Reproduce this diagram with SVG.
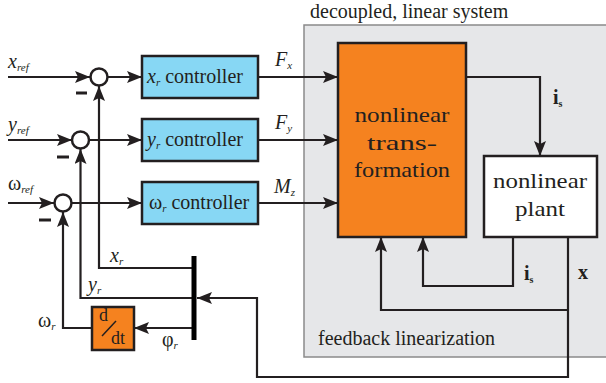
<svg xmlns="http://www.w3.org/2000/svg" width="606" height="383" viewBox="0 0 606 383" font-family="'Liberation Serif', 'DejaVu Serif', serif">
<style>
.ln{fill:none;stroke:#231f20;stroke-width:2.2}
text{font-family:'Liberation Serif','DejaVu Serif',serif;fill:#231f20}
.it{font-style:italic}
.b{font-weight:bold}
.ctrl{fill:#87d7f4;stroke:#231f20;stroke-width:2.5}
.sum{fill:#fff;stroke:#231f20;stroke-width:2.5}
</style>
<defs>
<marker id="ah" markerUnits="userSpaceOnUse" markerWidth="16" markerHeight="12" refX="15" refY="6" orient="auto">
<path d="M0,0 L15,6 L0,12 L3,6 z" fill="#231f20"/>
</marker>
</defs>
<rect id="bg" x="0" y="0" width="606" height="383" fill="#fff"/>
<g id="system-region">
<rect x="304" y="25" width="310" height="332" fill="#e6e7e9" stroke="#8a8a8a" stroke-width="1.5"/>
<text x="310" y="18" font-size="20">decoupled, linear system</text>
<text x="318" y="345" font-size="20">feedback linearization</text>
</g>
<g id="connectors">
<line class="ln" x1="8" y1="77" x2="90" y2="77" marker-end="url(#ah)"/>
<line class="ln" x1="8" y1="140" x2="72" y2="140" marker-end="url(#ah)"/>
<line class="ln" x1="8" y1="203" x2="54" y2="203" marker-end="url(#ah)"/>
<line class="ln" x1="108" y1="77" x2="142" y2="77" marker-end="url(#ah)"/>
<line class="ln" x1="89" y1="140" x2="142" y2="140" marker-end="url(#ah)"/>
<line class="ln" x1="72" y1="203" x2="142" y2="203" marker-end="url(#ah)"/>
<line class="ln" x1="258" y1="77" x2="338" y2="77" marker-end="url(#ah)"/>
<line class="ln" x1="258" y1="140" x2="338" y2="140" marker-end="url(#ah)"/>
<line class="ln" x1="258" y1="203" x2="338" y2="203" marker-end="url(#ah)"/>
<polyline class="ln" points="466,77 540,77 540,156" marker-end="url(#ah)"/>
<polyline class="ln" points="513,237 513,286 423,286 423,237" marker-end="url(#ah)"/>
<polyline class="ln" points="568,237 568,377 257,377 257,298 197,298" marker-end="url(#ah)"/>
<polyline class="ln" points="568,310 381,310 381,237" marker-end="url(#ah)"/>
<polyline class="ln" points="194,268 99,268 99,86" marker-end="url(#ah)"/>
<polyline class="ln" points="194,298 80.5,298 80.5,149" marker-end="url(#ah)"/>
<line class="ln" x1="194" y1="328" x2="134" y2="328" marker-end="url(#ah)"/>
<polyline class="ln" points="92,328 63,328 63,212" marker-end="url(#ah)"/>
</g>
<g id="sum1">
<circle class="sum" cx="99" cy="77" r="8.5"/>
<line x1="76" y1="93" x2="87" y2="93" stroke="#231f20" stroke-width="3"/>
</g>
<g id="sum2">
<circle class="sum" cx="80.5" cy="140" r="8.5"/>
<line x1="57" y1="157" x2="69" y2="157" stroke="#231f20" stroke-width="3"/>
</g>
<g id="sum3">
<circle class="sum" cx="63" cy="203" r="8.5"/>
<line x1="39" y1="220" x2="51" y2="220" stroke="#231f20" stroke-width="3"/>
</g>
<g id="xr-controller">
<rect class="ctrl" x="142" y="56" width="116" height="42"/>
<text x="147" y="83" font-size="20"><tspan class="it">x</tspan><tspan class="it" font-size="11" dy="3">r</tspan><tspan dy="-3"> controller</tspan></text>
</g>
<g id="yr-controller">
<rect class="ctrl" x="142" y="119" width="116" height="42"/>
<text x="147" y="146" font-size="20"><tspan class="it">y</tspan><tspan class="it" font-size="11" dy="3">r</tspan><tspan dy="-3"> controller</tspan></text>
</g>
<g id="wr-controller">
<rect class="ctrl" x="142" y="182" width="116" height="42"/>
<text x="149" y="209" font-size="20">ω<tspan class="it" font-size="11" dy="3">r</tspan><tspan dy="-3"> controller</tspan></text>
</g>
<g id="transformation">
<rect x="338" y="43" width="128" height="194" fill="#f5821f" stroke="#231f20" stroke-width="2.5"/>
<text x="402" y="122" font-size="22" text-anchor="middle" textLength="95" lengthAdjust="spacingAndGlyphs">nonlinear</text>
<text x="402" y="150" font-size="22" text-anchor="middle" textLength="70" lengthAdjust="spacingAndGlyphs">trans-</text>
<text x="402" y="177" font-size="22" text-anchor="middle" textLength="96" lengthAdjust="spacingAndGlyphs">formation</text>
</g>
<g id="plant">
<rect x="484" y="156" width="113" height="81" fill="#fff" stroke="#231f20" stroke-width="2.5"/>
<text x="540" y="188" font-size="22" text-anchor="middle" textLength="94" lengthAdjust="spacingAndGlyphs">nonlinear</text>
<text x="540" y="216" font-size="22" text-anchor="middle" textLength="50" lengthAdjust="spacingAndGlyphs">plant</text>
</g>
<g id="demux">
<rect x="191.5" y="256" width="5" height="84" fill="#000"/>
</g>
<g id="ddt">
<rect x="92" y="307" width="42" height="43" fill="#f5821f" stroke="#231f20" stroke-width="2.5"/>
<text x="99" y="321" font-size="18">d</text>
<line x1="102" y1="336" x2="116" y2="321" stroke="#231f20" stroke-width="1.5"/>
<text x="111" y="344" font-size="18">dt</text>
</g>
<g id="labels">
<text x="8" y="68" font-size="20"><tspan class="it">x</tspan><tspan class="it" font-size="11" dy="3">ref</tspan></text>
<text x="8" y="131" font-size="20"><tspan class="it">y</tspan><tspan class="it" font-size="11" dy="3">ref</tspan></text>
<text x="8" y="190" font-size="20">ω<tspan class="it" font-size="11" dy="3">ref</tspan></text>
<text x="275" y="66" font-size="20"><tspan class="it">F</tspan><tspan class="it" font-size="11" dy="3">x</tspan></text>
<text x="275" y="129" font-size="20"><tspan class="it">F</tspan><tspan class="it" font-size="11" dy="3">y</tspan></text>
<text x="274" y="193" font-size="20"><tspan class="it">M</tspan><tspan class="it" font-size="11" dy="3">z</tspan></text>
<text x="110" y="262" font-size="20"><tspan class="it">x</tspan><tspan class="it" font-size="11" dy="3">r</tspan></text>
<text x="88" y="291" font-size="20"><tspan class="it">y</tspan><tspan class="it" font-size="11" dy="3">r</tspan></text>
<text x="38" y="327" font-size="20">ω<tspan class="it" font-size="11" dy="3">r</tspan></text>
<text x="162" y="346" font-size="20">φ<tspan class="it" font-size="11" dy="3">r</tspan></text>
<text class="b" x="553" y="104" font-size="20">i<tspan font-size="10" dy="3">s</tspan></text>
<text class="b" x="524" y="280" font-size="20">i<tspan font-size="10" dy="3">s</tspan></text>
<text class="b" x="578" y="279" font-size="20">x</text>
</g>
</svg>
